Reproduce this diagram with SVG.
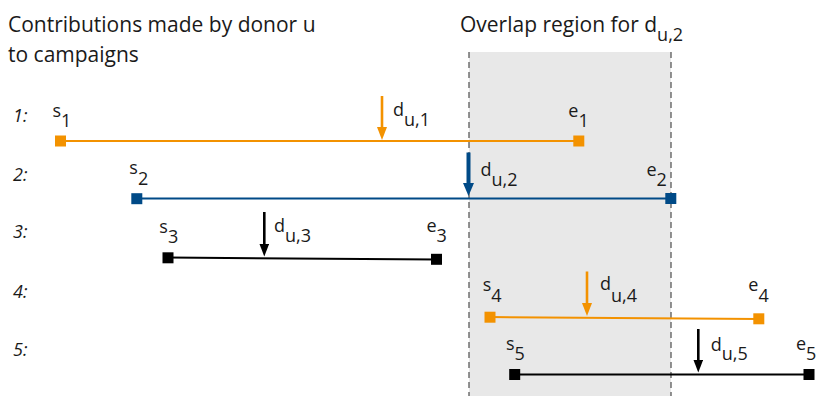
<svg xmlns="http://www.w3.org/2000/svg" width="830" height="396" viewBox="0 0 830 396">
<style>
text{font-family:"Open Sans","Noto Sans","Liberation Sans",sans-serif;fill:#1a1a1a}
.title{font-size:21px}
.lbl{font-size:18px}
.row{font-size:18px;font-style:italic}
.sub{font-size:18px}
.or{stroke:#f39200;fill:none}
.bl{stroke:#004a87;fill:none}
.bk{stroke:#000;fill:none}
.sqo{fill:#f39200}
.sqb{fill:#004a87}
.sqk{fill:#000}
.dash{stroke:#5a5a5a;stroke-width:1.3;stroke-dasharray:6 4;fill:none}
</style>
<defs>
<marker id="ho" markerUnits="userSpaceOnUse" markerWidth="13" markerHeight="10" refX="7" refY="5" orient="auto"><path d="M0,0 L13,5 L0,10 z" fill="#f39200"/></marker>
<marker id="hb" markerUnits="userSpaceOnUse" markerWidth="13" markerHeight="11" refX="7" refY="5.5" orient="auto"><path d="M0,0 L13,5.5 L0,11 z" fill="#004a87"/></marker>
<marker id="hk" markerUnits="userSpaceOnUse" markerWidth="13" markerHeight="10" refX="7" refY="5" orient="auto"><path d="M0,0 L13,5 L0,10 z" fill="#000"/></marker>
</defs>

<g id="overlap">
<rect x="469" y="52" width="202" height="344" fill="#e8e8e8"/>
<line class="dash" x1="469" y1="52" x2="469" y2="396"/>
<line class="dash" x1="671" y1="52" x2="671" y2="396"/>
</g>

<g id="titles">
<text class="title" x="8" y="32">Contributions made by donor u</text>
<text class="title" x="8" y="62">to campaigns</text>
<text class="title" x="460" y="32">Overlap region for d<tspan class="sub" dy="8.7">u,2</tspan></text>
</g>

<g id="row-labels">
<text class="row" x="13" y="122">1:</text>
<text class="row" x="13" y="181">2:</text>
<text class="row" x="13" y="238">3:</text>
<text class="row" x="13" y="298">4:</text>
<text class="row" x="13" y="356">5:</text>
</g>

<g id="connectors">
<line class="or" stroke-width="2" x1="60.5" y1="141" x2="578.8" y2="141"/>
<line class="bl" stroke-width="2" x1="137" y1="198.5" x2="671" y2="198.5"/>
<line class="bk" stroke-width="2" x1="168" y1="257.5" x2="436.5" y2="259.5"/>
<line class="or" stroke-width="2" x1="490" y1="317" x2="759" y2="319"/>
<line class="bk" stroke-width="2" x1="514.7" y1="374.5" x2="809" y2="374.5"/>
<line class="or" stroke-width="2.6" x1="382" y1="96" x2="382" y2="134" marker-end="url(#ho)"/>
<line class="bl" stroke-width="4" x1="468.5" y1="152.5" x2="468.5" y2="190" marker-end="url(#hb)"/>
<line class="bk" stroke-width="2.6" x1="264.3" y1="212" x2="264.3" y2="250.5" marker-end="url(#hk)"/>
<line class="or" stroke-width="2.6" x1="587" y1="271.5" x2="587" y2="310" marker-end="url(#ho)"/>
<line class="bk" stroke-width="2.6" x1="698.3" y1="329" x2="698.3" y2="366.5" marker-end="url(#hk)"/>
</g>

<g id="contribution-1">
<rect class="sqo" x="55" y="135.5" width="11" height="11"/>
<rect class="sqo" x="573.3" y="135.5" width="11" height="11"/>
<text class="lbl" x="52.5" y="116.7">s<tspan dy="10">1</tspan></text>
<text class="lbl" x="568.3" y="116.7">e<tspan dy="10">1</tspan></text>
<text class="lbl" x="393" y="115.5">d<tspan dy="10.5">u,1</tspan></text>
</g>

<g id="contribution-2">
<rect class="sqb" x="131.3" y="193.2" width="11" height="11"/>
<rect class="sqb" x="665.3" y="193" width="11" height="11"/>
<text class="lbl" x="129.3" y="174">s<tspan dy="11">2</tspan></text>
<text class="lbl" x="646.5" y="175.5">e<tspan dy="10">2</tspan></text>
<text class="lbl" x="480.5" y="175.5">d<tspan dy="10">u,2</tspan></text>
</g>

<g id="contribution-3">
<rect class="sqk" x="162.5" y="252.3" width="11" height="11"/>
<rect class="sqk" x="431" y="253.8" width="11" height="11"/>
<text class="lbl" x="159.3" y="232.5">s<tspan dy="10">3</tspan></text>
<text class="lbl" x="426.5" y="231.7">e<tspan dy="10">3</tspan></text>
<text class="lbl" x="274" y="231.7">d<tspan dy="10">u,3</tspan></text>
</g>

<g id="contribution-4">
<rect class="sqo" x="484.5" y="311.7" width="11" height="11"/>
<rect class="sqo" x="753.3" y="313.3" width="11" height="11"/>
<text class="lbl" x="482.7" y="291">s<tspan dy="10.7">4</tspan></text>
<text class="lbl" x="748.3" y="290.5">e<tspan dy="11">4</tspan></text>
<text class="lbl" x="600" y="289.5">d<tspan dy="12">u,4</tspan></text>
</g>

<g id="contribution-5">
<rect class="sqk" x="509.2" y="369" width="11" height="11"/>
<rect class="sqk" x="803.5" y="369" width="11" height="11"/>
<text class="lbl" x="506" y="350">s<tspan dy="10">5</tspan></text>
<text class="lbl" x="796" y="350">e<tspan dy="10">5</tspan></text>
<text class="lbl" x="710.7" y="350.5">d<tspan dy="9.5">u,5</tspan></text>
</g>
</svg>
